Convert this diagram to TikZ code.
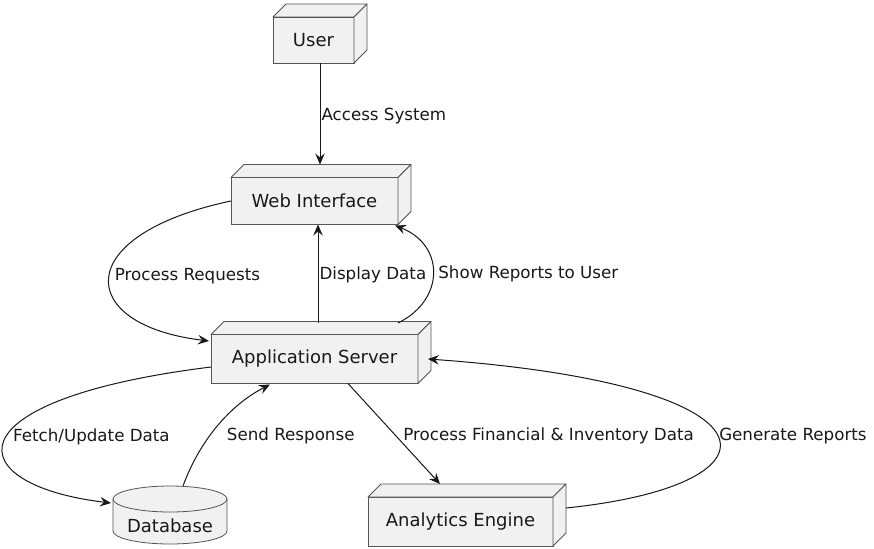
\documentclass[tikz,border=0pt]{standalone}
\usepackage{fontspec}
\setmainfont{DejaVu Sans}
\usetikzlibrary{calc,arrows.meta}
\definecolor{nodefill}{HTML}{F1F1F1}
\definecolor{nodeline}{HTML}{555555}
\definecolor{edgeline}{HTML}{181818}
\newcommand\threedbox[1]{%
  \draw[boxface] (#1.north west) -- ++(13,13) -- ($(#1.north east)+(13,13)$) -- (#1.north east) -- cycle;
  \draw[boxface] (#1.north east) -- ++(13,13) -- ($(#1.south east)+(13,13)$) -- (#1.south east) -- cycle;}
\begin{document}
\begin{tikzpicture}[x=1pt,y=1pt,
  box/.style={draw=nodeline, fill=nodefill, line width=0.8pt, inner sep=0pt, outer sep=0pt,
    font=\fontsize{18}{20}\selectfont, text=black!90},
  boxface/.style={draw=nodeline, fill=nodefill, line width=0.8pt, line join=round},
  arr/.style={draw=edgeline, line width=1pt, -{Stealth[length=11pt,width=9.5pt,inset=4pt]}},
  lbl/.style={font=\fontsize{16.7}{18}\selectfont, inner sep=1pt, text=black!90, anchor=west}]
\useasboundingbox (0,0) rectangle (874,-548);
\fill[white] (0,0) rectangle (874,-548);

% nodes
\node[box, minimum width=81, minimum height=46] (user) at (313.5,-40) {User};
\threedbox{user}
\node[box, minimum width=167, minimum height=47] (web) at (314.5,-201) {Web Interface};
\threedbox{web}
\node[box, minimum width=207, minimum height=49] (app) at (314.5,-359) {Application Server};
\threedbox{app}
\node[box, minimum width=185, minimum height=49] (ana) at (460.5,-521.5) {Analytics Engine};
\threedbox{ana}

% database cylinder
\fill[nodefill] (113,-499) -- (113,-531) arc[start angle=180,end angle=360,x radius=57,y radius=13]
  -- (227,-499) arc[start angle=0,end angle=180,x radius=57,y radius=13] -- cycle;
\draw[nodeline, line width=0.8pt] (170,-499) ellipse[x radius=57,y radius=13];
\draw[nodeline, line width=0.8pt] (113,-499) -- (113,-531) arc[start angle=180,end angle=360,x radius=57,y radius=13] -- (227,-499);
\node[font=\fontsize{18}{20}\selectfont, text=black!90, inner sep=0pt] (db) at (170,-526) {Database};

% connectors
\draw[arr] ($(user.south)+(6.5,0)$) -- node[lbl, pos=0.5, yshift=-2pt] {Access System} ($(web.north)+(5.5,13)$);

\draw[arr] (web.west) .. controls (70,-235) and (75,-325) .. node[lbl, pos=0.5, xshift=4pt, yshift=2pt] {Process Requests} ($(app.west)+(-2,18)$);

\draw[arr] ($(app.north)+(3.5,12)$) -- node[lbl, pos=0.5, yshift=-1pt] {Display Data} ($(web.south)+(3.5,0)$);

\draw[arr] ($(app.north)+(83.5,11.5)$) .. controls (445,-300) and (445,-245) .. node[lbl, pos=0.5, xshift=4pt, yshift=-1pt] {Show Reports to User} ($(web.south east)+(-3,-1)$);

\draw[arr] ($(app.west)+(0,-8)$) .. controls (-55,-400) and (-40,-485) .. node[lbl, pos=0.5, xshift=7pt, yshift=4pt] {Fetch/Update Data} ($(db)+(-59,23)$);

\draw[arr] ($(db)+(13,40)$) .. controls (200,-440) and (230,-405) .. node[lbl, pos=0.4, xshift=16pt] {Send Response} ($(app.south)+(-44.5,-1)$);

\draw[arr] ($(app.south)+(33.5,0)$) -- node[lbl, pos=0.51, xshift=7pt, yshift=-1pt] {Process Financial \& Inventory Data} ($(ana.north)+(-20.5,13)$);

\draw[arr] ($(ana.east)+(13,13.5)$) .. controls (790,-485) and (790,-385) .. node[lbl, pos=0.5, xshift=1pt, yshift=-1pt] {Generate Reports} ($(app.east)+(10,0)$);
\end{tikzpicture}
\end{document}
